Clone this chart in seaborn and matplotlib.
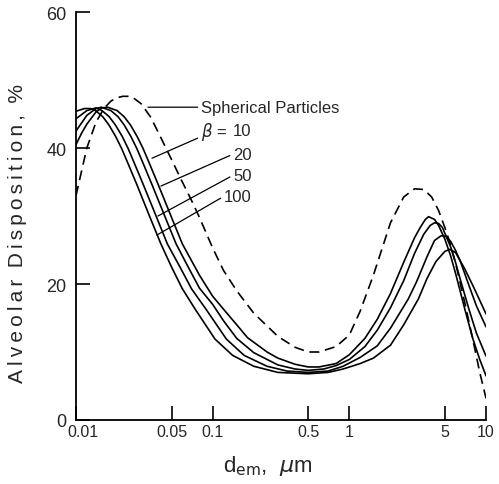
import numpy as np
import pandas as pd
import matplotlib
matplotlib.use("Agg")
import matplotlib.pyplot as plt
from matplotlib.transforms import ScaledTranslation
import seaborn as sns

# Alveolar deposition vs equivalent diameter
d_sph = [0.01, 0.012, 0.014, 0.016, 0.018, 0.02, 0.022, 0.025, 0.027, 0.03, 0.035, 0.04, 0.05, 0.06,
         0.07, 0.08, 0.1, 0.12, 0.15, 0.2, 0.3, 0.4, 0.5, 0.6, 0.8, 1.0, 1.2, 1.5, 2.0, 2.5,
         3.0, 3.5, 4.0, 4.5, 5.0, 5.5, 6.0, 7.0, 8.0, 9.0, 10]
dep_sph = [33, 40, 43.8, 45.8, 46.9, 47.4, 47.6, 47.6, 47.2, 46.5, 44.6, 42.3, 38.3, 35.0,
           32.3, 29.8, 25.3, 22.0, 19.0, 15.7, 12.3, 10.7, 10.0, 10.0, 10.8, 12.5, 16.0, 21.3, 29.0, 32.8,
           34.0, 33.9, 32.8, 30.8, 28.3, 25.8, 23.0, 17.2, 11.9, 7.0, 3.2]

d_b10 = [0.01, 0.011, 0.012, 0.014, 0.0155, 0.017, 0.02, 0.0225, 0.025, 0.028, 0.031, 0.035, 0.04,
         0.05, 0.06, 0.08, 0.1, 0.12, 0.15, 0.18, 0.25, 0.3, 0.4, 0.5, 0.6, 0.8, 1.0, 1.3, 1.6,
         2.0, 2.5, 3.0, 3.3, 3.6, 3.8, 4.2, 4.5, 5.0, 5.5, 6.0, 7.0, 8.0, 9.0, 10]
dep_b10 = [40.5, 42.2, 43.5, 45.3, 45.9, 46.0, 45.5, 44.6, 43.4, 41.7, 39.9, 37.4, 34.6,
           29.8, 25.9, 21.3, 18.2, 16.3, 14.0, 12.1, 10.0, 9.1, 8.2, 7.8, 7.8, 8.3, 9.6, 12.0, 14.8,
           18.6, 23.2, 26.8, 28.3, 29.5, 29.9, 29.5, 28.6, 26.6, 24.2, 21.5, 16.3, 12.0, 8.9, 6.5]

d_b20 = [0.01, 0.012, 0.014, 0.0153, 0.018, 0.0203, 0.0225, 0.0252, 0.0279, 0.0315, 0.036, 0.045,
         0.054, 0.065, 0.08, 0.1, 0.12, 0.15, 0.2, 0.3, 0.4, 0.5, 0.65, 0.8, 1.0, 1.3, 1.6, 2.0,
         2.5, 3.0, 3.5, 3.9, 4.2, 4.5, 4.8, 5.5, 6.0, 6.5, 7.5, 8.5, 10]
dep_b20 = [42.5, 44.8, 45.8, 46.0, 45.5, 44.6, 43.4, 41.7, 39.9, 37.4, 34.6, 29.8,
           25.9, 22.8, 19.4, 17.0, 14.6, 12.0, 9.9, 8.1, 7.5, 7.3, 7.5, 8.0, 8.9, 10.8, 13.2, 16.5,
           20.5, 24.5, 27.3, 28.6, 29.0, 28.9, 28.3, 25.5, 23.1, 20.6, 16.3, 12.8, 9.4]

d_b50 = [0.01, 0.012, 0.014, 0.0155, 0.0175, 0.0194, 0.0218, 0.0241, 0.0272, 0.0311, 0.0389, 0.0466,
         0.058, 0.07, 0.09, 0.126, 0.17, 0.25, 0.35, 0.5, 0.7, 0.9, 1.2, 1.6, 2.0, 2.7, 3.1, 3.7,
         4.2, 4.7, 5.1, 5.5, 6.0, 6.5, 7.5, 8.5, 10]
dep_b50 = [44.3, 45.5, 45.9, 45.5, 44.6, 43.4, 41.7, 39.9, 37.4, 34.6, 29.8, 25.9,
           22.4, 19.3, 16.2, 11.9, 9.5, 7.9, 7.2, 7.0, 7.2, 7.9, 9.2, 10.9, 13.5, 17.8, 20.3, 24.0,
           26.4, 27.1, 27.0, 26.3, 24.9, 23.3, 19.8, 16.8, 13.7]

d_b100 = [0.01, 0.0115, 0.0128, 0.0139, 0.0157, 0.0174, 0.0195, 0.0216, 0.0244, 0.0279, 0.0348,
          0.0418, 0.05, 0.06, 0.075, 0.104, 0.14, 0.2, 0.3, 0.5, 0.7, 0.9, 1.2, 1.5, 2.0, 2.5,
          3.2, 3.7, 4.3, 5.0, 5.45, 6.0, 7.0, 8.0, 9.0, 10]
dep_b100 = [45.4, 45.8, 45.8, 45.5, 44.6, 43.4, 41.7, 39.9, 37.4, 34.6, 29.8,
            25.9, 22.5, 19.3, 16.2, 11.9, 9.5, 7.9, 7.0, 6.8, 7.0, 7.5, 8.3, 9.1, 11.0, 14.0,
            17.8, 20.8, 23.3, 24.8, 25.1, 24.6, 22.2, 19.8, 17.6, 15.6]

x_ticks = [0.01, 0.05, 0.1, 0.5, 1, 5, 10]
x_ticklabels = ["0.01", "0.05", "0.1", "0.5", "1", "5", "10"]
y_ticks = [0, 20, 40, 60]

curves = {"Spherical": (d_sph, dep_sph), "10": (d_b10, dep_b10), "20": (d_b20, dep_b20),
          "50": (d_b50, dep_b50), "100": (d_b100, dep_b100)}
df = pd.concat([pd.DataFrame({"d": d, "dep": v, "curve": k}) for k, (d, v) in curves.items()],
               ignore_index=True)

sns.set_style("ticks")
plt.rcParams["font.family"] = ["Liberation Sans", "DejaVu Sans"]

fig = plt.figure(figsize=(4.99, 4.85), dpi=100)
ax = fig.add_axes([76 / 499, 1 - 421 / 485, 410 / 499, 408 / 485])
ax.set_xscale("log")

sns.lineplot(data=df, x="d", y="dep", hue="curve", style="curve",
             palette={k: "black" for k in curves},
             dashes={"Spherical": (6, 3.5), "10": "", "20": "", "50": "", "100": ""},
             estimator=None, sort=False, legend=False, lw=1.2, ax=ax)

ax.set_xlim(0.01, 10)
ax.set_ylim(0, 60)
ax.set_xticks(x_ticks)
ax.set_xticklabels(x_ticklabels)
ax.xaxis.set_minor_locator(matplotlib.ticker.NullLocator())
ax.set_yticks(y_ticks)
ax.tick_params(axis="both", direction="in", length=10, width=1.2, color="black")
ax.tick_params(axis="x", labelsize=11.5, pad=3)
ax.tick_params(axis="y", labelsize=13, pad=7)
for s in ["left", "bottom"]:
    ax.spines[s].set_linewidth(1.3)
    ax.spines[s].set_color("black")
sns.despine(ax=ax)

# nudge the first x label off the "0"
lab0 = ax.get_xticklabels()[0]
lab0.set_transform(lab0.get_transform() + ScaledTranslation(0.07, 0, fig.dpi_scale_trans))

ts = "\u2009"
ax.set_xlabel(r"d$_{\rm em}$," + "  " + r"$\mu$m", fontsize=16)
ax.xaxis.set_label_coords(0.468, -0.08)
ylab = "  ".join(ts.join(w) for w in ["Alveolar", "Disposition,", "%"])
ax.set_ylabel(ylab, fontsize=15)
ax.yaxis.set_label_coords(-0.12, 0.46)

# curve labels with leader lines
txt = dict(fontsize=12, va="center")
line = dict(arrowstyle="-", color="black", lw=0.9, shrinkA=0, shrinkB=0)
ax.annotate("Spherical Particles", xy=(0.0336, 46.0), xytext=(0.082, 46.0),
            ha="left", arrowprops=line, **txt)
ax.annotate(r"$\beta$ =", xy=(0.036, 38.5), xytext=(0.082, 42.5),
            ha="left", arrowprops=line, **txt)
ax.text(0.193, 42.5, "10", ha="right", **txt)
ax.annotate("20", xy=(0.0418, 34.4), xytext=(0.193, 39.1), ha="right",
            arrowprops=dict(line, relpos=(0, 0.5)), **txt)
ax.annotate("50", xy=(0.0398, 30.0), xytext=(0.193, 36.0), ha="right",
            arrowprops=dict(line, relpos=(0, 0.5)), **txt)
ax.annotate("100", xy=(0.0391, 27.2), xytext=(0.193, 32.9), ha="right",
            arrowprops=dict(line, relpos=(0, 0.5)), **txt)

fig.savefig("out.png", dpi=100)
